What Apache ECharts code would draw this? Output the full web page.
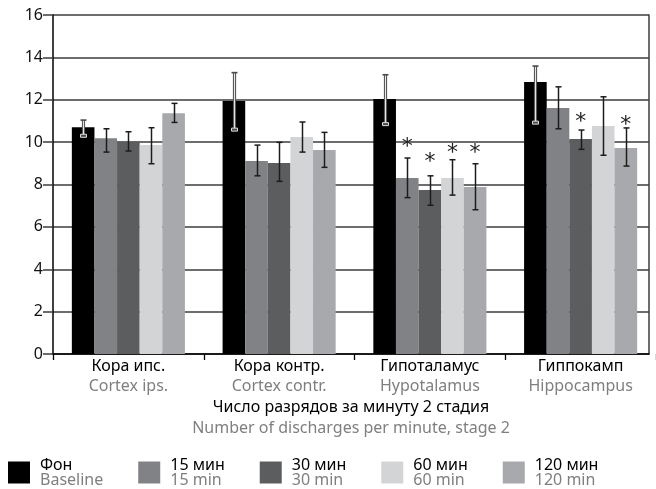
<!DOCTYPE html>
<html>
<head>
<meta charset="utf-8">
<script src="https://cdn.jsdelivr.net/npm/echarts@6/dist/echarts.min.js"></script>
<style>
  html, body { margin: 0; padding: 0; background: #fff; }
  #chart { width: 656px; height: 489px; }
</style>
</head>
<body>
<div id="chart"></div>
<script>
// Brain regions (Russian caption + English caption)
const regionsRu = ['Кора ипс.', 'Кора контр.', 'Гипоталамус', 'Гиппокамп'];
const regionsEn = ['Cortex ips.', 'Cortex contr.', 'Hypotalamus', 'Hippocampus'];

// Time points (legend)
const seriesRu = ['Фон', '15 мин', '30 мин', '60 мин', '120 мин'];
const seriesEn = ['Baseline', '15 min', '30 min', '60 min', '120 min'];

// Mean number of discharges per minute, stage 2
const baseline = [10.7, 11.94, 12.03, 12.84];
const min15    = [10.18, 9.11, 8.31, 11.61];
const min30    = [10.02, 9.01, 7.74, 10.15];
const min60    = [9.86, 10.24, 8.31, 10.76];
const min120   = [11.36, 9.63, 7.88, 9.72];

// Error bar ends (lower / upper)
const baselineLo = [10.3, 10.59, 10.85, 10.92];
const baselineHi = [11.04, 13.28, 13.18, 13.59];
const min15Lo    = [9.53, 8.41, 7.38, 10.63];
const min15Hi    = [10.63, 9.86, 9.25, 12.61];
const min30Lo    = [9.58, 8.15, 7.02, 9.66];
const min30Hi    = [10.49, 9.99, 8.41, 10.57];
const min60Lo    = [8.98, 9.53, 7.5, 9.38];
const min60Hi    = [10.68, 10.95, 9.17, 12.14];
const min120Lo   = [10.93, 8.81, 6.81, 8.87];
const min120Hi   = [11.83, 10.46, 8.98, 10.67];

// Significance marks: [region index, time point index, height]
const significance = [
  [2, 1, 10.02], [2, 2, 9.34], [2, 3, 9.75], [2, 4, 9.78],
  [3, 2, 11.23], [3, 4, 11.08]
];

// Value axis ticks
const yMin = 0, yMax = 16, yStep = 2;

const values = [baseline, min15, min30, min60, min120];
const lows   = [baselineLo, min15Lo, min30Lo, min60Lo, min120Lo];
const highs  = [baselineHi, min15Hi, min30Hi, min60Hi, min120Hi];
const colors = ['#000000', '#818285', '#5c5d5f', '#d3d4d6', '#a8a9ac'];

const FONT = 'Noto Sans';
const GAP_RATIO = 0.25;
const N = values.length;

function barOffset(api, sIdx) {
  const band = api.size([1, 0])[0];
  const bw = band * (1 - GAP_RATIO) / N;
  return { bw: bw, dx: (sIdx - (N - 1) / 2) * bw };
}

function errorSeries(sIdx) {
  const data = regionsRu.map((_, i) => [i, lows[sIdx][i], highs[sIdx][i], values[sIdx][i]]);
  return {
    type: 'custom',
    xAxisIndex: 1,
    yAxisIndex: 1,
    silent: true,
    z: 5,
    data: data,
    renderItem: function (params, api) {
      const cat = api.value(0);
      const o = barOffset(api, sIdx);
      const x = Math.round(api.coord([cat, 0])[0] + o.dx) + 0.5;
      const yLo = api.coord([cat, api.value(1)])[1];
      const yHi = api.coord([cat, api.value(2)])[1];
      const cap = 3;
      const children = [];
      if (sIdx === 0) {
        // outlined whisker, visible on the black bar
        const outer = { stroke: '#4a4a4a', lineWidth: 3.2 };
        const inner = { stroke: '#e6e6e6', lineWidth: 1.2 };
        [outer, inner].forEach(function (st) {
          children.push({ type: 'line', shape: { x1: x, y1: yHi, x2: x, y2: yLo }, style: st });
        });
        children.push({ type: 'line', shape: { x1: x - cap, y1: yHi, x2: x + cap, y2: yHi }, style: { stroke: '#4a4a4a', lineWidth: 1.6 } });
        children.push({ type: 'rect', shape: { x: x - cap, y: yLo - 1.5, width: cap * 2, height: 3 }, style: { fill: '#4a4a4a', stroke: '#dcdcdc', lineWidth: 1 } });
      } else {
        const st = { stroke: '#1c1c1c', lineWidth: 1.5 };
        children.push({ type: 'line', shape: { x1: x, y1: yHi, x2: x, y2: yLo }, style: st });
        children.push({ type: 'line', shape: { x1: x - cap, y1: yHi, x2: x + cap, y2: yHi }, style: st });
        children.push({ type: 'line', shape: { x1: x - cap, y1: yLo, x2: x + cap, y2: yLo }, style: st });
      }
      return { type: 'group', children: children };
    }
  };
}

const barSeries = values.map((v, s) => ({
  name: seriesRu[s],
  type: 'bar',
  xAxisIndex: 1,
  yAxisIndex: 1,
  data: v,
  itemStyle: { color: colors[s] },
  barGap: '0%',
  barCategoryGap: (GAP_RATIO * 100) + '%',
  silent: true,
  z: 3
}));

const starSeries = {
  type: 'custom',
  xAxisIndex: 1,
  yAxisIndex: 1,
  silent: true,
  z: 6,
  data: significance,
  renderItem: function (params, api) {
    const cat = api.value(0);
    const sIdx = api.value(1);
    const o = barOffset(api, sIdx);
    const p = api.coord([cat, api.value(2)]);
    return {
      type: 'text',
      style: {
        text: '*',
        x: p[0] + o.dx,
        y: p[1] + 6,
        fill: '#222',
        font: '22px "DejaVu Sans"',
        textAlign: 'center',
        textVerticalAlign: 'middle'
      }
    };
  }
};

const chart = echarts.init(document.getElementById('chart'), null, { renderer: 'canvas' });

chart.setOption({
  backgroundColor: '#ffffff',
  animation: false,
  textStyle: { fontFamily: FONT },
  grid: [
    { left: 53, right: 7, top: 15, bottom: 135 },
    { left: 53, right: 0, top: 15, bottom: 135 }
  ],
  xAxis: [
    {
      gridIndex: 0,
      type: 'category',
      data: regionsRu,
      axisLine: { show: true, lineStyle: { color: '#000', width: 1.5 } },
      axisTick: { show: false },
      axisLabel: { show: false },
      splitLine: { show: false },
      name: '{ru|Число разрядов за минуту 2 стадия}\n{en|Number of discharges per minute, stage 2}',
      nameLocation: 'middle',
      nameGap: 43,
      nameTextStyle: {
        rich: {
          ru: { fontFamily: FONT, fontSize: 16, color: '#000', lineHeight: 21 },
          en: { fontFamily: FONT, fontSize: 16, color: '#7f7f7f', lineHeight: 21 }
        }
      }
    },
    {
      gridIndex: 1,
      type: 'category',
      data: regionsRu,
      axisLine: { show: false },
      axisTick: { show: true, length: 6, lineStyle: { color: '#000', width: 1.3 } },
      axisLabel: {
        margin: 2,
        interval: 0,
        formatter: function (v, i) { return '{ru|' + regionsRu[i] + '}\n{en|' + regionsEn[i] + '}'; },
        rich: {
          ru: { fontFamily: FONT, fontSize: 16, color: '#000', lineHeight: 20 },
          en: { fontFamily: FONT, fontSize: 16, color: '#7f7f7f', lineHeight: 20 }
        }
      },
      splitLine: { show: false }
    }
  ],
  yAxis: [
    {
      gridIndex: 0,
      type: 'value',
      min: yMin, max: yMax, interval: yStep,
      axisLine: { show: true, lineStyle: { color: '#000', width: 1.5 } },
      axisTick: { show: true, length: 10, lineStyle: { color: '#3c3c3c', width: 1.5 } },
      axisLabel: { margin: 10, fontFamily: FONT, fontSize: 16, color: '#111' },
      splitLine: { show: true, lineStyle: { color: '#3c3c3c', width: 1.5 } }
    },
    {
      gridIndex: 1,
      type: 'value',
      min: yMin, max: yMax, interval: yStep,
      show: false
    },
    {
      gridIndex: 0,
      type: 'value',
      position: 'right',
      min: yMin, max: yMax, interval: yStep,
      axisLine: { show: true, lineStyle: { color: '#3c3c3c', width: 1.5 } },
      axisTick: { show: false },
      axisLabel: { show: false },
      splitLine: { show: false }
    }
  ],
  legend: {
    left: 8,
    top: 457,
    padding: 0,
    icon: 'rect',
    itemWidth: 22,
    itemHeight: 22,
    itemGap: 35,
    selectedMode: false,
    data: seriesRu,
    formatter: function (name) {
      const i = seriesRu.indexOf(name);
      return '{ru|' + seriesRu[i] + '}\n{en|' + seriesEn[i] + '}';
    },
    textStyle: {
      padding: [0, 0, 0, 5],
      rich: {
        ru: { fontFamily: FONT, fontSize: 16, color: '#000', lineHeight: 15 },
        en: { fontFamily: FONT, fontSize: 16, color: '#7f7f7f', lineHeight: 15 }
      }
    }
  },
  series: barSeries.concat(values.map((_, s) => errorSeries(s))).concat([starSeries])
});
</script>
</body>
</html>
